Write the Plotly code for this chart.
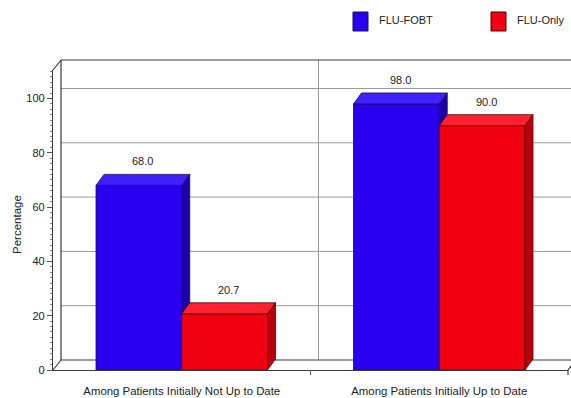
import plotly.graph_objects as go

# ---- data ----
categories = ["Among Patients Initially Not Up to Date", "Among Patients Initially Up to Date"]
series_names = ["FLU-FOBT", "FLU-Only"]
flu_fobt = [68.0, 98.0]
flu_only = [20.7, 90.0]
y_ticks = [0, 20, 40, 60, 80, 100]

# ---- layout geometry ----
W, H = 571, 398
ML, MR, MT, MB = 53, 3, 70, 28
PW, PH = W - ML - MR, H - MT - MB
X_MIN, X_MAX = -0.5, 1.5
Y_MAX = 110.5
WALL_DX, WALL_DY = 8, 10      # depth of the back wall / floor, px
BAR_DX, BAR_DY = 8, 11        # depth of the bars, px
BAR_W = 0.333

FONT = "Liberation Sans, Arial, sans-serif"

colors = {
    "FLU-FOBT": dict(front="#2a00f0", top="#4020ff", side="#1c00a8", edge="#1a1050"),
    "FLU-Only": dict(front="#f00010", top="#ff2030", side="#b8000c", edge="#500000"),
}


def pxx(x_px):
    return (x_px - ML) / PW


def pxy(y_px):
    return (MT + PH - y_px) / PH


# bar depth in data units
dx = BAR_DX * (X_MAX - X_MIN) / PW
dy = BAR_DY * Y_MAX / PH

fig = go.Figure()

# front faces
values = [flu_fobt, flu_only]
offsets = [-BAR_W, 0.0]
xs = list(range(len(categories)))
for name, vals, off in zip(series_names, values, offsets):
    c = colors[name]
    fig.add_trace(go.Bar(
        x=xs, y=vals, width=BAR_W, offset=off, name=name,
        marker=dict(color=c["front"], line=dict(color=c["edge"], width=0.8)),
        showlegend=False, hoverinfo="skip",
    ))


def face(xp, yp, fill, edge):
    fig.add_trace(go.Scatter(
        x=xp + [xp[0]], y=yp + [yp[0]], mode="lines", fill="toself",
        fillcolor=fill, line=dict(color=edge, width=0.8),
        showlegend=False, hoverinfo="skip",
    ))


# top and side faces, drawn left to right so nearer bars cover farther ones
for i in xs:
    for k, (name, vals, off) in enumerate(zip(series_names, values, offsets)):
        c = colors[name]
        v = vals[i]
        x0 = i + off
        x1 = x0 + BAR_W
        face([x0, x0 + dx, x1 + dx, x1], [v, v + dy, v + dy, v], c["top"], c["edge"])
        # the next bar in the group hides the lower part of this side face
        lower = 0.0
        if k + 1 < len(values):
            lower = min(values[k + 1][i], v)
        face([x1, x1 + dx, x1 + dx, x1], [v, v + dy, lower + dy, lower], c["side"], c["edge"])

# value labels, centred over each top face
annotations = []
for name, vals, off in zip(series_names, values, offsets):
    for i, v in zip(xs, vals):
        annotations.append(dict(
            x=i + off + BAR_W / 2, y=v, xref="x", yref="y",
            text=f"{v:.1f}", showarrow=False, xshift=BAR_DX / 2, yshift=BAR_DY + 13,
            font=dict(family=FONT, size=11, color="#222"),
        ))

# back wall, floor and gridlines (paper coordinates, offset for depth)
wdx = WALL_DX / PW
wdy = WALL_DY / PH
shapes = []
grid = "#9a9a9a"
for t in y_ticks[1:]:
    yy = t / Y_MAX + wdy
    shapes.append(dict(type="line", xref="paper", yref="paper",
                       x0=wdx, x1=1 + wdx, y0=yy, y1=yy,
                       line=dict(color=grid, width=1), layer="below"))
# category divider on the back wall
for b in [0.5]:
    xb = (b - X_MIN) / (X_MAX - X_MIN) + wdx
    shapes.append(dict(type="line", xref="paper", yref="paper",
                       x0=xb, x1=xb, y0=wdy, y1=1 + wdy,
                       line=dict(color=grid, width=1), layer="below"))
    xf = (b - X_MIN) / (X_MAX - X_MIN)
    shapes.append(dict(type="line", xref="paper", yref="paper",
                       x0=xf, x1=xf, y0=0, y1=-5 / PH,
                       line=dict(color="#666", width=1)))
frame = [
    (wdx, 1 + wdy, 1 + wdx, 1 + wdy),   # wall top
    (wdx, wdy, wdx, 1 + wdy),           # wall left edge
    (0, 1, wdx, 1 + wdy),               # top-left corner
    (wdx, wdy, 1 + wdx, wdy),           # floor back edge
    (0, 0, wdx, wdy),                   # floor left corner
    (1, 0, 1 + wdx, wdy),               # floor right corner
    (1, 0, 1, -5 / PH),
]
for x0, y0, x1, y1 in frame:
    shapes.append(dict(type="line", xref="paper", yref="paper",
                       x0=x0, y0=y0, x1=x1, y1=y1,
                       line=dict(color="#3a3a3a", width=1.2), layer="below"))

# legend
legend_items = [("FLU-FOBT", 353, 377), ("FLU-Only", 491, 515)]
for name, sx, tx in legend_items:
    c = colors[name]
    shapes.append(dict(type="rect", xref="paper", yref="paper",
                       x0=pxx(sx), x1=pxx(sx + 15), y0=pxy(31), y1=pxy(12),
                       fillcolor=c["front"], line=dict(color=c["edge"], width=1)))
    annotations.append(dict(x=pxx(tx), y=pxy(20), xref="paper", yref="paper",
                            text=name, showarrow=False, xanchor="left", yanchor="middle",
                            font=dict(family=FONT, size=11, color="#222")))

annotations.append(dict(x=pxx(17), y=pxy(225), xref="paper", yref="paper",
                        text="Percentage", textangle=-90, showarrow=False,
                        xanchor="center", yanchor="middle",
                        font=dict(family=FONT, size=11.5, color="#222")))

fig.update_layout(
    width=W, height=H,
    margin=dict(l=ML, r=MR, t=MT, b=MB),
    paper_bgcolor="white", plot_bgcolor="white",
    template="none",
    barmode="overlay",
    shapes=shapes,
    annotations=annotations,
    showlegend=False,
    xaxis=dict(
        range=[X_MIN, X_MAX], tickvals=xs, ticktext=categories,
        showgrid=False, zeroline=False, showline=True, linecolor="#3a3a3a", linewidth=1.2,
        ticks="", ticklabelstandoff=10,
        tickfont=dict(family=FONT, size=11.4, color="#222"),
    ),
    yaxis=dict(
        range=[0, Y_MAX], tickvals=y_ticks, showgrid=False, zeroline=False,
        showline=True, linecolor="#3a3a3a", linewidth=1.2,
        ticks="outside", ticklen=5, tickcolor="#555",
        minor=dict(ticks="outside", dtick=2, ticklen=2, tickcolor="#888"),
        tickfont=dict(family=FONT, size=11, color="#222"),
    ),
)

fig.write_html("out.html")
